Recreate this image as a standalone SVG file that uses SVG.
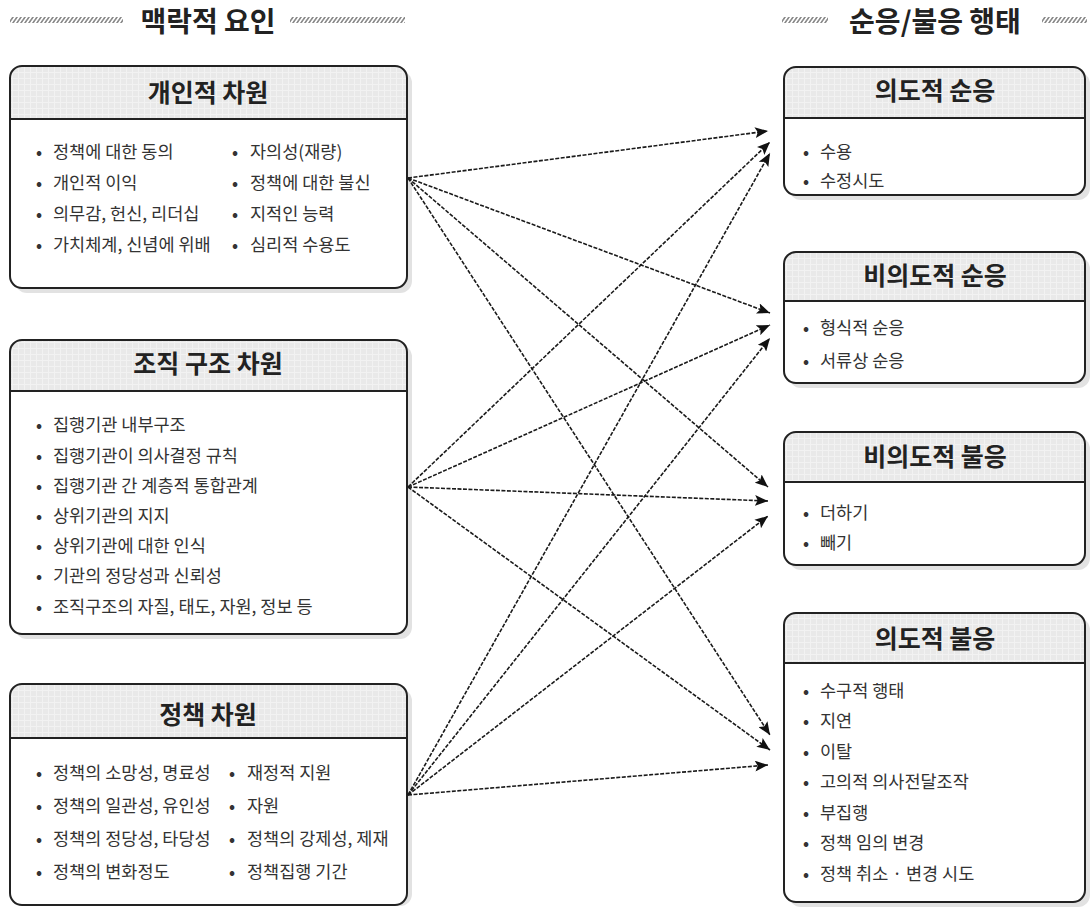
<svg xmlns="http://www.w3.org/2000/svg" width="1092" height="911" viewBox="0 0 1092 911">
<defs>
<pattern id="hatch" width="4" height="8" patternUnits="userSpaceOnUse" patternTransform="skewX(-35)">
<rect width="4" height="8" fill="#fff"/>
<line x1="1" y1="0" x2="1" y2="8" stroke="#666" stroke-width="1.5"/>
</pattern>
<pattern id="grid" width="6" height="6" patternUnits="userSpaceOnUse">
<rect width="6" height="6" fill="#e9e9e9"/>
<rect width="1" height="6" fill="#f2f2f2"/>
<rect width="6" height="1" fill="#f2f2f2"/>
</pattern>
<marker id="arr" viewBox="0 0 12 10" refX="12" refY="5" markerWidth="13" markerHeight="11" markerUnits="userSpaceOnUse" orient="auto">
<path d="M0,0 L12,5 L0,10 L2.5,5 Z" fill="#111"/>
</marker>
</defs>
<style>
.sec{font-family:"Noto Sans CJK KR","Noto Sans",sans-serif;font-size:28px;font-weight:700;fill:#222;text-anchor:middle}
.hd{font-family:"Noto Sans CJK KR","Noto Sans",sans-serif;font-size:25px;font-weight:700;fill:#222;text-anchor:middle}
.tx{font-family:"Noto Sans CJK KR","Noto Sans",sans-serif;font-size:17.5px;fill:#333}
.bl{font-family:"Noto Sans CJK KR","Noto Sans",sans-serif;font-size:16px;font-weight:700;fill:#333}
.shadow{fill:#e2e2e2}
.body{fill:#fff}
.head{fill:url(#grid)}
.frame{fill:none;stroke:#222;stroke-width:2}
.div{stroke:#222;stroke-width:2}
.con{fill:none;stroke:#1a1a1a;stroke-width:1.6;stroke-dasharray:4 1.5;marker-end:url(#arr)}
.hatch{fill:url(#hatch)}
</style>
<rect width="1092" height="911" fill="#fff"/>

<g id="section-left">
<rect class="hatch" x="10" y="17" width="113" height="6"/>
<rect class="hatch" x="290" y="17" width="115" height="6"/>
<text class="sec" x="208" y="32">맥락적 요인</text>
</g>
<g id="section-right">
<rect class="hatch" x="782" y="17" width="46" height="6"/>
<rect class="hatch" x="1042" y="17" width="45" height="6"/>
<text class="sec" x="935" y="32">순응/불응 행태</text>
</g>

<g id="node-personal">
<rect class="shadow" x="15" y="71" width="397" height="222" rx="12"/>
<rect class="body" x="10" y="66" width="397" height="222" rx="12"/>
<path class="head" d="M10,119 V78 A12,12 0 0 1 22,66 H395 A12,12 0 0 1 407,78 V119 Z"/>
<line class="div" x1="10" y1="119" x2="407" y2="119"/>
<rect class="frame" x="10" y="66" width="397" height="222" rx="12"/>
<text class="hd" x="208" y="102">개인적 차원</text>
<text class="bl" x="36" y="158">•</text><text class="tx" x="53" y="158">정책에 대한 동의</text>
<text class="bl" x="36" y="189">•</text><text class="tx" x="53" y="189">개인적 이익</text>
<text class="bl" x="36" y="220">•</text><text class="tx" x="53" y="220">의무감, 헌신, 리더십</text>
<text class="bl" x="36" y="251">•</text><text class="tx" x="53" y="251">가치체계, 신념에 위배</text>
<text class="bl" x="232" y="158">•</text><text class="tx" x="250" y="158">자의성(재량)</text>
<text class="bl" x="232" y="189">•</text><text class="tx" x="250" y="189">정책에 대한 불신</text>
<text class="bl" x="232" y="220">•</text><text class="tx" x="250" y="220">지적인 능력</text>
<text class="bl" x="232" y="251">•</text><text class="tx" x="250" y="251">심리적 수용도</text>
</g>

<g id="node-org">
<rect class="shadow" x="15" y="345" width="397" height="294" rx="12"/>
<rect class="body" x="10" y="340" width="397" height="294" rx="12"/>
<path class="head" d="M10,391 V352 A12,12 0 0 1 22,340 H395 A12,12 0 0 1 407,352 V391 Z"/>
<line class="div" x1="10" y1="391" x2="407" y2="391"/>
<rect class="frame" x="10" y="340" width="397" height="294" rx="12"/>
<text class="hd" x="208" y="373">조직 구조 차원</text>
<text class="bl" x="36" y="431">•</text><text class="tx" x="53" y="431">집행기관 내부구조</text>
<text class="bl" x="36" y="462">•</text><text class="tx" x="53" y="462">집행기관이 의사결정 규칙</text>
<text class="bl" x="36" y="492">•</text><text class="tx" x="53" y="492">집행기관 간 계층적 통합관계</text>
<text class="bl" x="36" y="522">•</text><text class="tx" x="53" y="522">상위기관의 지지</text>
<text class="bl" x="36" y="552">•</text><text class="tx" x="53" y="552">상위기관에 대한 인식</text>
<text class="bl" x="36" y="582">•</text><text class="tx" x="53" y="582">기관의 정당성과 신뢰성</text>
<text class="bl" x="36" y="613">•</text><text class="tx" x="53" y="613">조직구조의 자질, 태도, 자원, 정보 등</text>
</g>

<g id="node-policy">
<rect class="shadow" x="15" y="689" width="397" height="217" rx="12"/>
<rect class="body" x="10" y="684" width="397" height="221" rx="12"/>
<path class="head" d="M10,738 V696 A12,12 0 0 1 22,684 H395 A12,12 0 0 1 407,696 V738 Z"/>
<line class="div" x1="10" y1="738" x2="407" y2="738"/>
<rect class="frame" x="10" y="684" width="397" height="221" rx="12"/>
<text class="hd" x="208" y="724">정책 차원</text>
<text class="bl" x="36" y="779">•</text><text class="tx" x="53" y="779">정책의 소망성, 명료성</text>
<text class="bl" x="36" y="812">•</text><text class="tx" x="53" y="812">정책의 일관성, 유인성</text>
<text class="bl" x="36" y="845">•</text><text class="tx" x="53" y="845">정책의 정당성, 타당성</text>
<text class="bl" x="36" y="878">•</text><text class="tx" x="53" y="878">정책의 변화정도</text>
<text class="bl" x="229" y="779">•</text><text class="tx" x="247" y="779">재정적 지원</text>
<text class="bl" x="229" y="812">•</text><text class="tx" x="247" y="812">자원</text>
<text class="bl" x="229" y="845">•</text><text class="tx" x="247" y="845">정책의 강제성, 제재</text>
<text class="bl" x="229" y="878">•</text><text class="tx" x="247" y="878">정책집행 기간</text>
</g>

<g id="node-intent-comply">
<rect class="shadow" x="789" y="72" width="301" height="128" rx="12"/>
<rect class="body" x="784" y="67" width="301" height="128" rx="12"/>
<path class="head" d="M784,118 V79 A12,12 0 0 1 796,67 H1073 A12,12 0 0 1 1085,79 V118 Z"/>
<line class="div" x1="784" y1="118" x2="1085" y2="118"/>
<rect class="frame" x="784" y="67" width="301" height="128" rx="12"/>
<text class="hd" x="935" y="100">의도적 순응</text>
<text class="bl" x="803" y="158">•</text><text class="tx" x="820" y="158">수용</text>
<text class="bl" x="803" y="187">•</text><text class="tx" x="820" y="187">수정시도</text>
</g>

<g id="node-unintent-comply">
<rect class="shadow" x="789" y="257" width="301" height="131" rx="12"/>
<rect class="body" x="784" y="252" width="301" height="131" rx="12"/>
<path class="head" d="M784,301 V264 A12,12 0 0 1 796,252 H1073 A12,12 0 0 1 1085,264 V301 Z"/>
<line class="div" x1="784" y1="301" x2="1085" y2="301"/>
<rect class="frame" x="784" y="252" width="301" height="131" rx="12"/>
<text class="hd" x="935" y="285">비의도적 순응</text>
<text class="bl" x="803" y="334">•</text><text class="tx" x="820" y="334">형식적 순응</text>
<text class="bl" x="803" y="367">•</text><text class="tx" x="820" y="367">서류상 순응</text>
</g>

<g id="node-unintent-noncomply">
<rect class="shadow" x="789" y="437" width="301" height="133" rx="12"/>
<rect class="body" x="784" y="432" width="301" height="133" rx="12"/>
<path class="head" d="M784,482 V444 A12,12 0 0 1 796,432 H1073 A12,12 0 0 1 1085,444 V482 Z"/>
<line class="div" x1="784" y1="482" x2="1085" y2="482"/>
<rect class="frame" x="784" y="432" width="301" height="133" rx="12"/>
<text class="hd" x="935" y="466">비의도적 불응</text>
<text class="bl" x="803" y="519">•</text><text class="tx" x="820" y="519">더하기</text>
<text class="bl" x="803" y="549">•</text><text class="tx" x="820" y="549">빼기</text>
</g>

<g id="node-intent-noncomply">
<rect class="shadow" x="789" y="618" width="301" height="289" rx="12"/>
<rect class="body" x="784" y="613" width="301" height="289" rx="12"/>
<path class="head" d="M784,663 V625 A12,12 0 0 1 796,613 H1073 A12,12 0 0 1 1085,625 V663 Z"/>
<line class="div" x1="784" y1="663" x2="1085" y2="663"/>
<rect class="frame" x="784" y="613" width="301" height="289" rx="12"/>
<text class="hd" x="935" y="648">의도적 불응</text>
<text class="bl" x="803" y="697">•</text><text class="tx" x="820" y="697">수구적 행태</text>
<text class="bl" x="803" y="727">•</text><text class="tx" x="820" y="727">지연</text>
<text class="bl" x="803" y="758">•</text><text class="tx" x="820" y="758">이탈</text>
<text class="bl" x="803" y="788">•</text><text class="tx" x="820" y="788">고의적 의사전달조작</text>
<text class="bl" x="803" y="819">•</text><text class="tx" x="820" y="819">부집행</text>
<text class="bl" x="803" y="849">•</text><text class="tx" x="820" y="849">정책 임의 변경</text>
<text class="bl" x="803" y="880">•</text><text class="tx" x="820" y="880">정책 취소 · 변경 시도</text>
</g>

<g id="connectors">
<line class="con" x1="408" y1="178" x2="768" y2="131"/>
<line class="con" x1="408" y1="178" x2="770" y2="313"/>
<line class="con" x1="408" y1="178" x2="768" y2="487"/>
<line class="con" x1="408" y1="178" x2="770" y2="735"/>
<line class="con" x1="408" y1="487" x2="770" y2="142"/>
<line class="con" x1="408" y1="487" x2="770" y2="325"/>
<line class="con" x1="408" y1="487" x2="768" y2="501"/>
<line class="con" x1="408" y1="487" x2="770" y2="750"/>
<line class="con" x1="408" y1="795" x2="770" y2="153"/>
<line class="con" x1="408" y1="795" x2="770" y2="338"/>
<line class="con" x1="408" y1="795" x2="768" y2="516"/>
<line class="con" x1="408" y1="795" x2="768" y2="765"/>
</g>
</svg>
